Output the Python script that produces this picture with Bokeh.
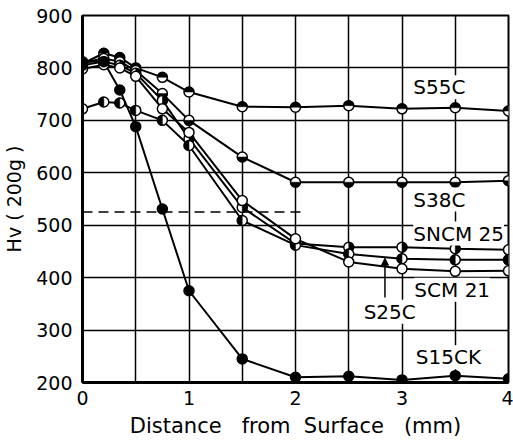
import numpy as np
from bokeh.plotting import figure
from bokeh.models import Range1d, FixedTicker, Label, Arrow, NormalHead
from bokeh.embed import file_html
from bokeh.resources import INLINE

# ---- data ----
depth = [0, 0.2, 0.35, 0.5, 0.75, 1.0, 1.5, 2.0, 2.5, 3.0, 3.5, 4.0]
s55c   = [808, 828, 820, 800, 782, 754, 726, 725, 728, 722, 724, 718]
s38c   = [810, 818, 812, 795, 751, 700, 630, 582, 582, 582, 582, 585]
sncm25 = [812, 812, 805, 790, 738, 665, 534, 465, 458, 458, 455, 453]
s25c   = [722, 735, 733, 719, 700, 652, 509, 462, 445, 436, 434, 434]
scm21  = [798, 806, 800, 784, 722, 677, 547, 474, 430, 417, 412, 413]
s15ck  = [805, 812, 758, 688, 531, 375, 245, 210, 212, 205, 213, 207]

ref_level = 525
ref_x = [0, 2.1]

x_ticks = [0, 1, 2, 3, 4]
x_minor = [0.5, 1.5, 2.5, 3.5]
y_ticks = [200, 300, 400, 500, 600, 700, 800, 900]

label_names = ["S55C", "S38C", "SNCM 25", "SCM 21", "S25C", "S15CK"]
label_x = [3.106, 3.106, 3.106, 3.116, 2.64, 3.13]
label_y = [763, 549, 484, 377, 335, 248]

arrow_x = 2.84
arrow_y = [362, 437]

FONT = "DejaVu Sans"
NB = "\u00a0"

p = figure(width=513, height=440, x_range=Range1d(0, 4), y_range=Range1d(200, 900),
           output_backend="svg", toolbar_location=None,
           min_border_left=79, min_border_right=5, min_border_top=15, min_border_bottom=58)
p.background_fill_color = "white"
p.outline_line_color = "black"
p.outline_line_width = 2

p.xaxis.ticker = FixedTicker(ticks=x_ticks, minor_ticks=x_minor)
p.yaxis.ticker = FixedTicker(ticks=y_ticks)
for ax in (p.xaxis[0], p.yaxis[0]):
    ax.axis_line_width = 3
    ax.axis_line_color = "black"
    ax.major_tick_out = 0
    ax.major_tick_in = 0
    ax.minor_tick_out = 0
    ax.minor_tick_in = 0
    ax.major_label_text_font = FONT
    ax.major_label_text_font_size = "19px"
    ax.major_label_text_color = "black"
    ax.axis_label_text_font = FONT
    ax.axis_label_text_font_style = "normal"
    ax.axis_label_text_color = "black"
p.xaxis.major_label_standoff = 8
p.yaxis.major_label_standoff = 10
p.xaxis.axis_label = "Distance" + NB * 3 + "from" + NB * 2 + "Surface" + NB * 3 + "(mm)"
p.xaxis.axis_label_text_font_size = "21px"
p.xaxis.axis_label_standoff = 6
p.yaxis.axis_label = "Hv ( 200g )"
p.yaxis.axis_label_text_font_size = "19px"
p.yaxis.axis_label_standoff = 8

p.xgrid.grid_line_color = "black"
p.xgrid.grid_line_width = 1.5
p.xgrid.minor_grid_line_color = "black"
p.xgrid.minor_grid_line_width = 1.5
p.ygrid.grid_line_color = "black"
p.ygrid.grid_line_width = 1.5

# dashed reference level
p.line(ref_x, [ref_level, ref_level], line_color="black", line_width=1.5, line_dash="10 6")

series = [
    (s55c, "top"),
    (s38c, "bottom"),
    (sncm25, "right"),
    (s25c, "left"),
    (scm21, "open"),
    (s15ck, "filled"),
]
half = {
    "top": (0, np.pi),
    "bottom": (np.pi, 2 * np.pi),
    "left": (np.pi / 2, 3 * np.pi / 2),
    "right": (-np.pi / 2, np.pi / 2),
}
for vals, style in series:
    p.line(depth, vals, line_color="black", line_width=2)
for vals, style in series:
    fill = "black" if style == "filled" else "white"
    p.scatter(depth, vals, marker="circle", size=10, fill_color=fill,
              line_color="black", line_width=1.5)
    if style in half:
        a0, a1 = half[style]
        p.wedge(depth, vals, radius=5, radius_units="screen", start_angle=a0,
                end_angle=a1, fill_color="black", line_color="black", line_width=0.5)

for name, lx, ly in zip(label_names, label_x, label_y):
    p.add_layout(Label(x=lx, y=ly, text=name, text_font=FONT, text_font_size="20px",
                       text_color="black", text_align="left", text_baseline="middle",
                       background_fill_color="white", background_fill_alpha=1.0))

p.add_layout(Arrow(x_start=arrow_x, y_start=arrow_y[0], x_end=arrow_x, y_end=arrow_y[1],
                   line_color="black", line_width=1.5,
                   end=NormalHead(size=7, fill_color="black", line_color="black")))

open("out.html", "w").write(file_html(p, INLINE))
